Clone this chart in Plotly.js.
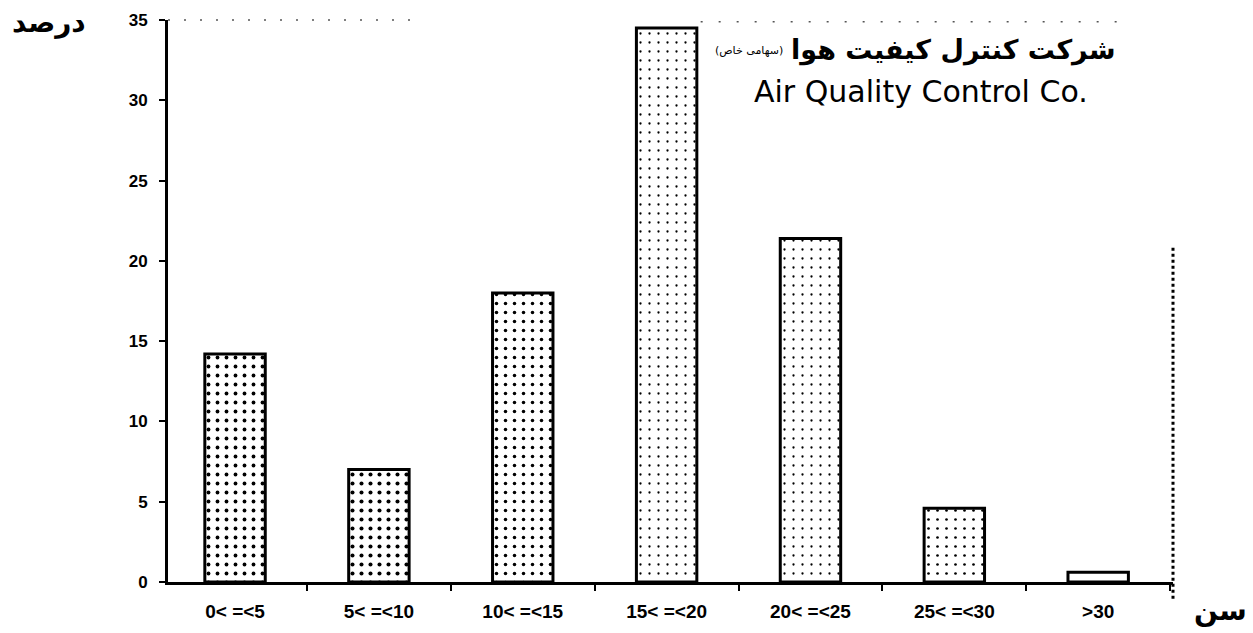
<!DOCTYPE html>
<html>
<head>
<meta charset="utf-8">
<script src="https://cdn.plot.ly/plotly-3.0.1.min.js"></script>
<style>html,body{margin:0;padding:0;background:#fff;}#chart{width:1253px;height:633px;}</style>
</head>
<body>
<div id="chart"></div>
<script>
// Age groups (سن) and percentages (درصد)
const categories = ["0< =<5", "5< =<10", "10< =<15", "15< =<20", "20< =<25", "25< =<30", ">30"];
const percents = [14.2, 7.0, 18.0, 34.5, 21.4, 4.6, 0.6];
const yTickVals = [0, 5, 10, 15, 20, 25, 30, 35];
const yTickText = ["0", "5", "10", "15", "20", "25", "30", "35"];

const trace = {
  type: 'bar',
  x: categories,
  y: percents,
  width: 0.42,
  marker: {
    color: 'white',
    line: {color: 'black', width: 3},
    pattern: {
      shape: ['.', '.', '.', '.', '.', '.', ''],
      fgcolor: 'black',
      bgcolor: 'white',
      size: 9,
      solidity: [0.14, 0.16, 0.12, 0.05, 0.05, 0.07, 0.01]
    }
  },
  hoverinfo: 'x+y'
};

const layout = {
  width: 1253, height: 633,
  margin: {l: 168, r: 80, t: 20, b: 51},
  paper_bgcolor: 'white', plot_bgcolor: 'white',
  showlegend: false,
  xaxis: {
    type: 'category',
    range: [-0.466, 6.52],
    showgrid: false, zeroline: false,
    showline: true, linecolor: 'black', linewidth: 3,
    ticks: 'outside', tickson: 'boundaries', ticklen: 6, tickwidth: 2, tickcolor: 'black',
    tickfont: {family: 'Liberation Sans, Arial, sans-serif', size: 19, color: 'black', weight: 'bold'},
    ticklabelstandoff: 10
  },
  yaxis: {
    range: [0, 35],
    tickvals: yTickVals, ticktext: yTickText,
    showgrid: false, zeroline: false,
    showline: true, linecolor: 'black', linewidth: 3,
    ticks: 'outside', ticklen: 6, tickwidth: 2, tickcolor: 'black',
    tickfont: {family: 'Liberation Sans, Arial, sans-serif', size: 17, color: 'black', weight: 'bold'},
    ticklabelstandoff: 8
  },
  shapes: [
    {type: 'line', xref: 'paper', yref: 'paper', x0: 1, x1: 1, y0: -0.03, y1: 0.6,
     line: {color: 'black', width: 3, dash: 'dot'}},
    {type: 'line', xref: 'paper', yref: 'paper', x0: 0, x1: 0.25, y0: 1, y1: 1,
     line: {color: '#555', width: 1.5, dash: '2px,14px'}},
    {type: 'line', xref: 'paper', yref: 'paper', x0: 0.53, x1: 0.95, y0: 0.997, y1: 0.997,
     line: {color: '#555', width: 1.5, dash: '2px,16px'}}
  ],
  annotations: [
    {text: 'درصد', xref: 'paper', yref: 'paper', x: -0.118, y: 0.996,
     xanchor: 'center', yanchor: 'middle', showarrow: false,
     font: {family: 'DejaVu Sans, sans-serif', size: 28, color: 'black', weight: 'bold'}},
    {text: 'سن', xref: 'paper', yref: 'paper', x: 1.047, y: -0.05,
     xanchor: 'center', yanchor: 'middle', showarrow: false,
     font: {family: 'DejaVu Sans, sans-serif', size: 28, color: 'black', weight: 'bold'}},
    {text: 'شرکت کنترل کیفیت هوا', xref: 'paper', yref: 'paper', x: 0.944, y: 0.947,
     xanchor: 'right', yanchor: 'middle', showarrow: false,
     font: {family: 'DejaVu Sans, sans-serif', size: 27, color: 'black', weight: 'bold'}},
    {text: '(سهامی خاص)', xref: 'paper', yref: 'paper', x: 0.614, y: 0.945,
     xanchor: 'right', yanchor: 'middle', showarrow: false,
     font: {family: 'DejaVu Sans, sans-serif', size: 11, color: 'black'}},
    {text: 'Air Quality Control Co.', xref: 'paper', yref: 'paper', x: 0.749, y: 0.872,
     xanchor: 'center', yanchor: 'middle', showarrow: false,
     font: {family: 'DejaVu Sans, sans-serif', size: 30, color: 'black'}}
  ]
};

Plotly.newPlot('chart', [trace], layout, {displayModeBar: false, staticPlot: true});
</script>
</body>
</html>
